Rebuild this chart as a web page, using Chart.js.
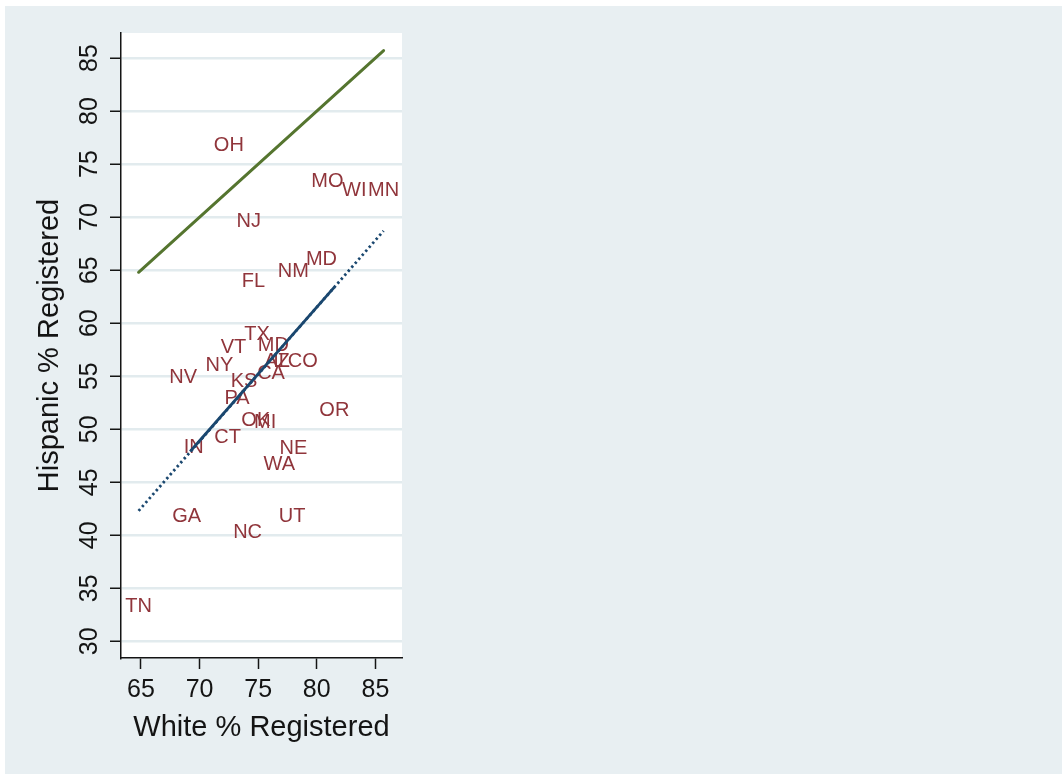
<!DOCTYPE html>
<html>
<head>
<meta charset="utf-8">
<script src="https://cdn.jsdelivr.net/npm/chart.js@4/dist/chart.umd.min.js"></script>
<style>
  html, body { margin: 0; padding: 0; background: #ffffff; }
  canvas { display: block; }
</style>
</head>
<body>
<canvas id="chart" width="1062" height="782"></canvas>
<script>
// State abbreviations and registration rates (percent)
const states   = ['OH','MO','WI','MN','NJ','MD','NM','FL','TX','VT','MD','AZ','IL','CO','NY','NV','CA','KS','PA','OK','MI','OR','CT','IN','NE','WA','GA','UT','NC','TN'];
const whiteReg = [72.5, 80.9, 83.2, 85.7, 74.2, 80.4, 78.0, 74.6, 74.9, 72.9, 76.3, 76.6, 77.0, 78.8, 71.7, 68.6, 76.1, 73.8, 73.2, 74.8, 75.6, 81.5, 72.4, 69.5, 78.0, 76.8, 68.9, 77.9, 74.1, 64.8];
const hispReg  = [76.8, 73.4, 72.5, 72.5, 69.6, 66.0, 64.9, 63.9, 58.9, 57.7, 57.9, 56.4, 56.4, 56.4, 56.0, 54.9, 55.3, 54.5, 52.9, 50.8, 50.6, 51.8, 49.2, 48.3, 48.2, 46.7, 41.8, 41.8, 40.3, 33.3];

// Axis ticks
const xTicks = [65, 70, 75, 80, 85];
const yTicks = [30, 35, 40, 45, 50, 55, 60, 65, 70, 75, 80, 85];

// Equal-registration reference line (Hispanic = White) over the observed range
const equalLine = [64.8, 85.7];

// Fitted line: end points, and the stretch where fitted values are dense
const fitX   = [64.8, 85.7];
const fitY   = [42.3, 68.7];
const denseX = [69.2, 81.5];
const denseY = [47.9, 63.4];

const xTitle = 'White % Registered';
const yTitle = 'Hispanic % Registered';

const FONT = '"Liberation Sans", Arial, Helvetica, sans-serif';
const LABEL_RED = '#90353b';
const GREEN = '#55752f';
const NAVY = '#1a476f';
const PANEL = '#e8eff2';
const GRID = '#e2ebee';
const INK = '#141414';

const toPoints = (xs, ys) => xs.map((x, i) => ({ x: x, y: ys[i] }));

// Light panel behind the chart and the white plot region
const framePlugin = {
  id: 'frame',
  beforeDraw(chart) {
    const { ctx, chartArea: a } = chart;
    ctx.save();
    ctx.fillStyle = '#ffffff';
    ctx.fillRect(0, 0, chart.width, chart.height);
    ctx.fillStyle = PANEL;
    ctx.fillRect(5, 6, chart.width - 5, 768);
    ctx.fillStyle = '#ffffff';
    ctx.fillRect(a.left, a.top, a.right - a.left, a.bottom - a.top);
    ctx.restore();
  }
};

// State abbreviations centred on each observation
const stateLabelPlugin = {
  id: 'stateLabels',
  beforeDatasetsDraw(chart) {
    const { ctx } = chart;
    const meta = chart.getDatasetMeta(0);
    ctx.save();
    ctx.font = '20px ' + FONT;
    ctx.fillStyle = LABEL_RED;
    ctx.textAlign = 'center';
    ctx.textBaseline = 'middle';
    meta.data.forEach((pt, i) => ctx.fillText(states[i], pt.x, pt.y));
    ctx.restore();
  }
};

// Tick labels and axis titles
const axisTextPlugin = {
  id: 'axisText',
  afterDraw(chart) {
    const { ctx, chartArea: a } = chart;
    const xs = chart.scales.x, ys = chart.scales.y;
    ctx.save();
    ctx.fillStyle = INK;
    ctx.textAlign = 'center';
    ctx.textBaseline = 'middle';

    ctx.font = '25px ' + FONT;
    xs.ticks.forEach(t => {
      ctx.fillText(String(t.value), xs.getPixelForValue(t.value), xs.top + 32.5);
    });
    ys.ticks.forEach(t => {
      ctx.save();
      ctx.translate(ys.right - 31, ys.getPixelForValue(t.value));
      ctx.rotate(-Math.PI / 2);
      ctx.fillText(String(t.value), 0, 0);
      ctx.restore();
    });

    ctx.font = '29px ' + FONT;
    ctx.fillText(xTitle, (a.left + a.right) / 2, xs.top + 69.5);
    ctx.save();
    ctx.translate(49.5, (a.top + a.bottom) / 2);
    ctx.rotate(-Math.PI / 2);
    ctx.fillText(yTitle, 0, 0);
    ctx.restore();
    ctx.restore();
  }
};

new Chart(document.getElementById('chart'), {
  type: 'scatter',
  data: {
    datasets: [
      {
        label: 'States',
        data: toPoints(whiteReg, hispReg),
        pointRadius: 0,
        pointHoverRadius: 0,
        showLine: false
      },
      {
        label: 'Equal registration',
        data: toPoints(equalLine, equalLine),
        showLine: true,
        borderColor: GREEN,
        borderWidth: 3,
        borderCapStyle: 'round',
        pointRadius: 0,
        fill: false
      },
      {
        label: 'Fitted values',
        data: toPoints(fitX, fitY),
        showLine: true,
        borderColor: NAVY,
        borderWidth: 2.8,
        borderDash: [2.4, 2.9],
        pointRadius: 0,
        fill: false
      },
      {
        label: 'Fitted values (dense)',
        data: toPoints(denseX, denseY),
        showLine: true,
        borderColor: NAVY,
        borderWidth: 2.8,
        pointRadius: 0,
        fill: false
      }
    ]
  },
  options: {
    responsive: false,
    animation: false,
    events: [],
    layout: { padding: { left: 0, top: 33, right: 660, bottom: 0 } },
    plugins: {
      legend: { display: false },
      tooltip: { enabled: false }
    },
    scales: {
      x: {
        type: 'linear',
        min: 63.3,
        max: 87.27,
        afterBuildTicks: s => { s.ticks = xTicks.map(v => ({ value: v })); },
        afterFit: s => { s.height = 124; },
        ticks: { display: false },
        grid: {
          drawOnChartArea: false,
          drawTicks: true,
          tickLength: 11,
          tickColor: INK,
          tickWidth: 1.5
        },
        border: { color: INK, width: 1.5 }
      },
      y: {
        type: 'linear',
        min: 28.43,
        max: 87.36,
        afterBuildTicks: s => { s.ticks = yTicks.map(v => ({ value: v })); },
        afterFit: s => { s.width = 121; },
        ticks: { display: false },
        grid: {
          color: GRID,
          lineWidth: 2.5,
          drawTicks: true,
          tickLength: 11,
          tickColor: INK,
          tickWidth: 1.5
        },
        border: { color: INK, width: 1.5 }
      }
    }
  },
  plugins: [framePlugin, stateLabelPlugin, axisTextPlugin]
});
</script>
</body>
</html>
